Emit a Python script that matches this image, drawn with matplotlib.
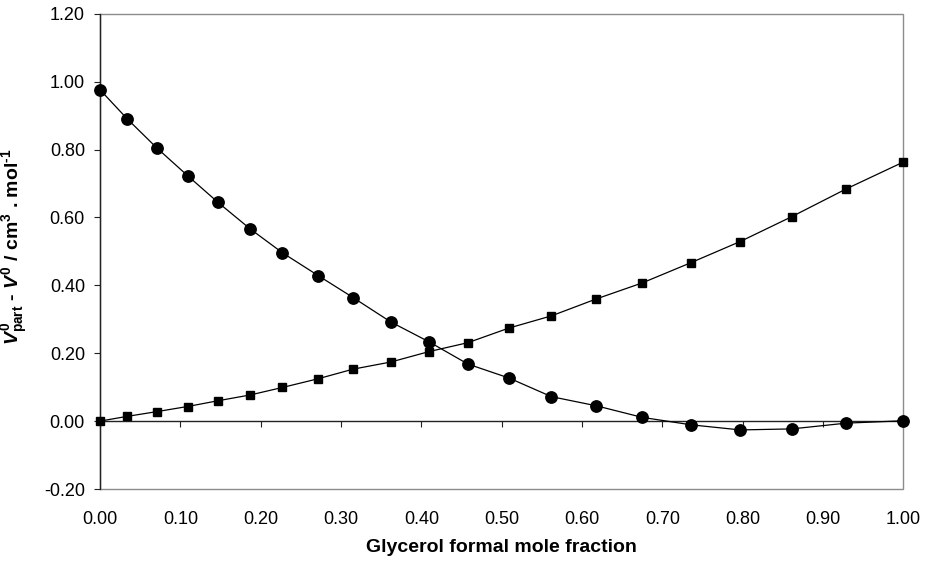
import numpy as np
import matplotlib
matplotlib.use("Agg")
import matplotlib.pyplot as plt
from matplotlib.patches import Rectangle

plt.rcParams['font.family'] = ['Liberation Sans', 'DejaVu Sans']
plt.rcParams['axes.unicode_minus'] = False
plt.rcParams['mathtext.fontset'] = 'custom'
plt.rcParams['mathtext.rm'] = 'Liberation Sans:bold'
plt.rcParams['mathtext.it'] = 'Liberation Sans:bold:italic'
plt.rcParams['mathtext.bf'] = 'Liberation Sans:bold'

# glycerol formal mole fraction
x_frac = [0.000, 0.034, 0.071, 0.109, 0.147, 0.187, 0.227, 0.272, 0.315, 0.362,
          0.410, 0.458, 0.509, 0.562, 0.618, 0.675, 0.736, 0.797, 0.861, 0.929, 1.000]
# circles
v_circ = [0.976, 0.890, 0.804, 0.723, 0.644, 0.566, 0.496, 0.428, 0.364, 0.292,
          0.233, 0.168, 0.127, 0.072, 0.045, 0.011, -0.011, -0.026, -0.023, -0.006, 0.001]
# squares
v_sq = [0.000, 0.014, 0.028, 0.043, 0.060, 0.077, 0.099, 0.125, 0.153, 0.174,
        0.205, 0.231, 0.274, 0.310, 0.360, 0.407, 0.467, 0.529, 0.602, 0.684, 0.763]

xticks = np.round(np.arange(0, 1.01, 0.1), 2)
yticks = np.round(np.arange(-0.2, 1.21, 0.2), 2)

fig = plt.figure(figsize=(9.29, 5.66), dpi=100)
ax = fig.add_axes([100/929, 1-489/566, 803.3/929, 475.3/566])

ax.plot(x_frac, v_circ, color='black', lw=0.9, marker='o', ms=8.2,
        mfc='black', mec='black', clip_on=False, zorder=4)
ax.plot(x_frac, v_sq, color='black', lw=0.9, marker='s', ms=6,
        mfc='black', mec='black', clip_on=False, zorder=4)

ax.set_xlim(0, 1)
ax.set_ylim(-0.2, 1.2)

# plot frame in grey
for s in ['top', 'right', 'bottom']:
    ax.spines[s].set_visible(False)
ax.add_patch(Rectangle((0, 0), 1, 1, transform=ax.transAxes, fill=False,
                       edgecolor='#8c8c8c', lw=1.0, clip_on=False, zorder=1))
ax.spines['left'].set_color('#222222')
ax.spines['left'].set_linewidth(1.0)
ax.spines['left'].set_zorder(3)

ax.set_yticks(yticks)
ax.set_yticklabels(['%.2f' % v for v in yticks])
ax.tick_params(axis='y', direction='out', length=4.3, width=0.8, pad=6.5,
               labelsize=13, color='#222222')

ax.set_xticks(xticks)
ax.set_xticklabels(['%.2f' % v for v in xticks])
ax.tick_params(axis='x', length=0, pad=16, labelsize=13)

# x axis line at zero with ticks
sec = ax.secondary_xaxis(0.2/1.4)
sec.set_xticks(xticks)
sec.tick_params(axis='x', direction='out', length=4, width=0.8,
                labelbottom=False, color='#222222')
sec.spines['bottom'].set_color('#222222')
sec.spines['bottom'].set_linewidth(1.0)

ax.set_xlabel('Glycerol formal mole fraction', fontsize=14, fontweight='bold')
ax.xaxis.set_label_coords(0.5, -0.105)

fig.text(15/929, 1-247/566,
         r'$V^{0}_{\mathrm{part}}$ - $V^{0}$ / cm$^{\mathrm{3}}$ . mol$^{\mathrm{\text{-}1}}$',
         fontsize=14, fontweight='bold', rotation=90, ha='center', va='center')

fig.savefig('out.png', dpi=100)
